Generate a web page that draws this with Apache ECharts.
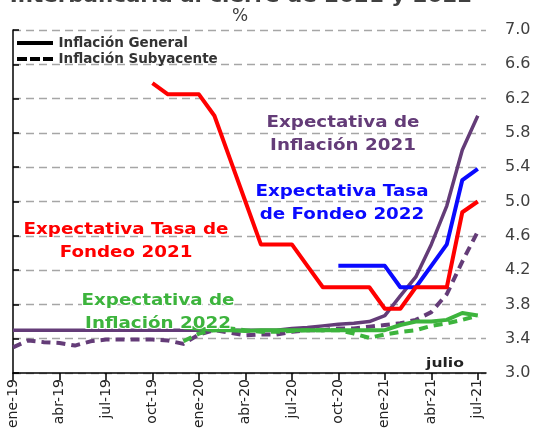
<!DOCTYPE html>
<html><head><meta charset="utf-8">
<script src="https://cdn.jsdelivr.net/npm/echarts@6/dist/echarts.min.js"></script>
<style>html,body{margin:0;padding:0;background:#fff}#c{width:539px;height:431px}</style>
</head><body><div id="c"></div>
<script>
// Months: index 0 = ene-19 ... index 30 = jul-21
const months = ['ene-19','feb-19','mar-19','abr-19','may-19','jun-19','jul-19','ago-19','sep-19','oct-19','nov-19','dic-19',
  'ene-20','feb-20','mar-20','abr-20','may-20','jun-20','jul-20','ago-20','sep-20','oct-20','nov-20','dic-20',
  'ene-21','feb-21','mar-21','abr-21','may-21','jun-21','jul-21'];
const xTickLabels = ['ene-19','abr-19','jul-19','oct-19','ene-20','abr-20','jul-20','oct-20','ene-21','abr-21','jul-21'];
const yTickLabels = ['3.0','3.4','3.8','4.2','4.6','5.0','5.4','5.8','6.2','6.6','7.0'];

const N = null;
// Expectativa de Inflación 2021 (general, solid purple)
const infl2021General = [3.5,3.5,3.5,3.5,3.5,3.5,3.5,3.5,3.5,3.5,3.5,3.5,
  3.5,3.5,3.5,3.5,3.5,3.5,3.52,3.53,3.55,3.57,3.58,3.6,
  3.67,3.9,4.12,4.5,4.95,5.6,6.0];
// Expectativa de Inflación 2021 (subyacente, dashed purple)
const infl2021Sub = [3.3,3.38,3.36,3.35,3.32,3.37,3.39,3.39,3.39,3.39,3.38,3.34,
  3.45,3.5,3.47,3.44,3.45,3.45,3.48,3.5,3.5,3.52,3.52,3.54,
  3.56,3.58,3.62,3.71,3.92,4.3,4.65];
// Expectativa de Inflación 2022 (general, solid green)
const infl2022General = [N,N,N,N,N,N,N,N,N,N,N,3.53,
  3.52,3.5,3.5,3.49,3.5,3.5,3.5,3.5,3.5,3.5,3.5,3.5,
  3.5,3.56,3.6,3.6,3.62,3.7,3.67];
// Expectativa de Inflación 2022 (subyacente, dashed green)
const infl2022Sub = [N,N,N,N,N,N,N,N,N,N,N,3.37,
  3.46,3.5,3.52,3.5,3.48,3.48,3.49,3.5,3.5,3.5,3.46,3.41,
  3.45,3.48,3.5,3.55,3.58,3.62,3.67];
// Expectativa Tasa de Fondeo 2021 (red)
const fondeo2021 = [N,N,N,N,N,N,N,N,N,6.38,6.25,6.25,
  6.25,6.0,5.5,5.0,4.5,4.5,4.5,4.25,4.0,4.0,4.0,4.0,
  3.75,3.75,4.0,4.0,4.0,4.875,5.0];
// Expectativa Tasa de Fondeo 2022 (blue)
const fondeo2022 = [N,N,N,N,N,N,N,N,N,N,N,N,
  N,N,N,N,N,N,N,N,N,4.25,4.25,4.25,
  4.25,4.0,4.0,4.25,4.5,5.25,5.38];

const toPairs = arr => arr.map((v, i) => v == null ? null : [i, v]).filter(p => p);

const FONT = 'DejaVu Sans';
const PURPLE = '#643C78', GREEN = '#3DB43D', RED = '#FF0000', BLUE = '#0A0AFF';

const chart = echarts.init(document.getElementById('c'), null, {renderer: 'canvas'});

function lineSeries(name, arr, color, dashed, width, z) {
  return {
    name, type: 'line', data: toPairs(arr), showSymbol: false, symbol: 'none',
    lineStyle: {color, width, type: dashed ? [9, 6] : 'solid', cap: 'butt', join: 'round'},
    itemStyle: {color}, z, animation: false
  };
}

function annot(x, y, lines, color) {
  return {
    type: 'text', x, y, z: 50, scaleX: 1.22,
    style: {text: lines.join('\n'), x: 0, y: 0, fill: color, font: 'bold 15px "' + FONT + '"',
      textAlign: 'center', textVerticalAlign: 'top', lineHeight: 23,
      stroke: '#ffffff', lineWidth: 2}
  };
}

chart.setOption({
  animation: false,
  backgroundColor: '#ffffff',
  textStyle: {fontFamily: FONT},
  grid: {left: 13, right: 53, top: 30, bottom: 52, containLabel: false},
  legend: {
    orient: 'vertical', left: 12, top: 31, itemGap: 2, itemWidth: 37, itemHeight: 4,
    data: [
      {name: 'Inflación General', icon: 'path://M0,0H36V4H0Z'},
      {name: 'Inflación Subyacente', icon: 'path://M0,0H10V4H0Z M13,0H23V4H13Z M26,0H36V4H26Z'}
    ],
    textStyle: {fontFamily: FONT, fontWeight: 'bold', fontSize: 13.5, color: '#333333', lineHeight: 14},
    selectedMode: false
  },
  graphic: [
    {type: 'text', x: 241, y: -13, scaleX: 1.07, style: {text: 'Interbancaria al cierre de 2021 y 2022', fill: '#404040',
      font: 'bold 20px "' + FONT + '"', textAlign: 'center'}},
    {type: 'text', x: 240, y: 8, style: {text: '%', fill: '#404040', font: '17px "' + FONT + '"', textAlign: 'center'}},
    annot(343, 112, ['Expectativa de', 'Inflación 2021'], PURPLE),
    annot(342, 181, ['Expectativa Tasa', 'de Fondeo 2022'], BLUE),
    annot(126, 219, ['Expectativa Tasa de', 'Fondeo 2021'], RED),
    annot(158, 290, ['Expectativa de', 'Inflación 2022'], GREEN),
    {type: 'text', x: 445, y: 357, scaleX: 1.2, style: {text: 'julio', fill: '#222222', font: 'bold 13px "' + FONT + '"', textAlign: 'center'}}
  ],
  xAxis: {
    type: 'value', min: 0, max: 30.53, interval: 3,
    axisLine: {show: true, lineStyle: {color: '#000', width: 1.5}},
    axisTick: {show: true, length: 7, lineStyle: {color: '#000', width: 1.5}},
    splitLine: {show: false},
    axisLabel: {
      rotate: 90, fontSize: 14, color: '#222', fontFamily: FONT, margin: 6,
      showMaxLabel: false,
      formatter: v => (Math.abs(v - Math.round(v)) < 1e-6 && Math.round(v) % 3 === 0) ? (xTickLabels[Math.round(v) / 3] || '') : ''
    }
  },
  yAxis: {
    type: 'value', position: 'right', min: 3, max: 7, interval: 0.4,
    axisLine: {show: true, lineStyle: {color: '#000', width: 1.5}},
    axisTick: {show: true, inside: false, length: 6, lineStyle: {color: '#000', width: 1.5}},
    axisLabel: {fontSize: 16, color: '#404040', fontFamily: FONT, margin: 19,
      formatter: v => yTickLabels[Math.round((v - 3) / 0.4)] || ''},
    splitLine: {show: true, lineStyle: {color: '#A6A6A6', width: 1.3, type: [8, 5]}}
  },
  series: [
    {name: 'Inflación General', type: 'line', data: [], symbol: 'none', lineStyle: {color: '#000', width: 4, type: 'solid'}, itemStyle: {color: '#000'}},
    {name: 'Inflación Subyacente', type: 'line', data: [], symbol: 'none', lineStyle: {color: '#000', width: 4, type: [8, 4]}, itemStyle: {color: '#000'}},
    lineSeries('Expectativa Inflación 2021 General', infl2021General, PURPLE, false, 3.5, 3),
    lineSeries('Expectativa Inflación 2021 Subyacente', infl2021Sub, PURPLE, true, 4, 3),
    lineSeries('Expectativa Inflación 2022 General', infl2022General, GREEN, false, 4, 4),
    lineSeries('Expectativa Inflación 2022 Subyacente', infl2022Sub, GREEN, true, 4, 4),
    lineSeries('Expectativa Tasa de Fondeo 2022', fondeo2022, BLUE, false, 4, 5),
    lineSeries('Expectativa Tasa de Fondeo 2021', fondeo2021, RED, false, 4, 6)
  ]
});
</script></body></html>
